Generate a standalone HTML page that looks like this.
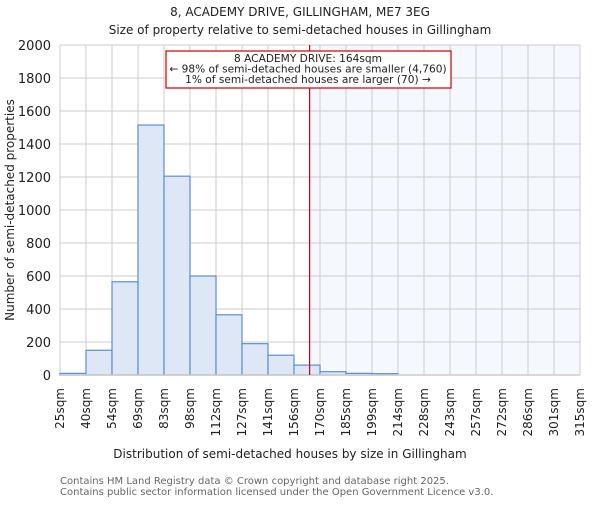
<!DOCTYPE html>
<html><head><meta charset="utf-8"><style>
body{margin:0;background:#fff;}
svg text{font-family:"DejaVu Sans","Liberation Sans",sans-serif;}
</style></head><body>
<svg id="chart" width="600" height="500" xmlns="http://www.w3.org/2000/svg">
<text x="300" y="16" text-anchor="middle" font-size="12" fill="#222">8, ACADEMY DRIVE, GILLINGHAM, ME7 3EG</text>
<text x="300" y="34" text-anchor="middle" font-size="12" fill="#222">Size of property relative to semi-detached houses in Gillingham</text>
<g id="plot"></g>
<text x="290" y="458" text-anchor="middle" font-size="12" fill="#222">Distribution of semi-detached houses by size in Gillingham</text>
<text transform="translate(14,210) rotate(-90)" text-anchor="middle" font-size="12" fill="#222">Number of semi-detached properties</text>
<text x="60" y="484" font-size="10" fill="#666">Contains HM Land Registry data © Crown copyright and database right 2025.</text>
<text x="60" y="495" font-size="10" fill="#666">Contains public sector information licensed under the Open Government Licence v3.0.</text>
</svg>
<script>
const binLabels=["25sqm","40sqm","54sqm","69sqm","83sqm","98sqm","112sqm","127sqm","141sqm","156sqm","170sqm","185sqm","199sqm","214sqm","228sqm","243sqm","257sqm","272sqm","286sqm","301sqm","315sqm"];
const counts=[10,150,565,1515,1205,600,365,190,120,60,20,10,8,0,0,0,0,0,0,0];
const yTicks=[0,200,400,600,800,1000,1200,1400,1600,1800,2000];
const markerBin=9.6;
const NS="http://www.w3.org/2000/svg";
const L=60,R=580,T=45,B=375,yMax=2000;
const nb=counts.length;
const xs=i=>L+(R-L)*i/nb;
const ys=v=>B-(B-T)*v/yMax;
const g=document.getElementById('plot');
function mk(t,a){const e=document.createElementNS(NS,t);for(const k in a)e.setAttribute(k,a[k]);g.appendChild(e);return e;}
const mx=xs(markerBin);
let e=mk('rect',{x:mx,y:T,width:R-mx,height:B-T,fill:'#f5f8fe'});


for(let i=0;i<=nb;i++){e=mk('line',{x1:xs(i),x2:xs(i),y1:T,y2:B,stroke:'#ccc','stroke-width':1});

}
yTicks.forEach(v=>{e=mk('line',{x1:L,x2:R,y1:ys(v),y2:ys(v),stroke:'#ccc','stroke-width':1});


e=mk('text',{x:L-9,y:ys(v)+5,'text-anchor':'end','font-size':13,fill:'#222'});e.textContent=v;

});
counts.forEach((c,i)=>{if(c<=0)return;e=mk('rect',{x:xs(i),y:ys(c),width:xs(i+1)-xs(i),height:B-ys(c),fill:'#dde7f5',stroke:'#5b8fd4','stroke-width':1.2});

});
e=mk('line',{x1:L,x2:R,y1:B,y2:B,stroke:'#ccc','stroke-width':1.5});


binLabels.forEach((s,i)=>{e=mk('text',{transform:`translate(${xs(i)+4},388) rotate(-90)`,'text-anchor':'end','font-size':12,fill:'#222'});e.textContent=s;

});
e=mk('line',{x1:mx,x2:mx,y1:T,y2:B,stroke:'#cc0000','stroke-width':1.2});


e=mk('rect',{x:166,y:51,width:285,height:37,fill:'#fff',stroke:'#cc0000','stroke-width':1.2});


["8 ACADEMY DRIVE: 164sqm","← 98% of semi-detached houses are smaller (4,760)","1% of semi-detached houses are larger (70) →"].forEach((s,k)=>{e=mk('text',{x:308,y:62+k*10.5,'text-anchor':'middle','font-size':10.6,fill:'#222'});e.textContent=s;

});
</script>
</body></html>
